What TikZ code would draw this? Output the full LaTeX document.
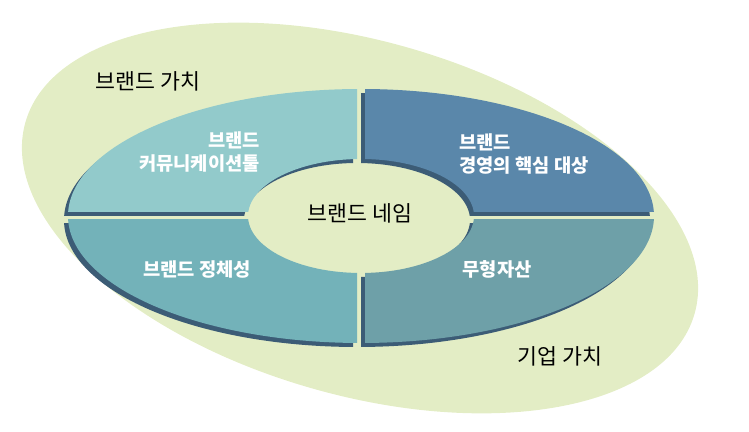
\documentclass[tikz,border=0pt]{standalone}
\usepackage{fontspec}
\setmainfont{Noto Sans CJK KR}
\definecolor{valuegreen}{RGB}{227,237,197}
\definecolor{ringshadow}{RGB}{60,92,118}
\definecolor{commteal}{RGB}{146,202,203}
\definecolor{coresteel}{RGB}{90,135,170}
\definecolor{identteal}{RGB}{115,178,185}
\definecolor{assetteal}{RGB}{110,160,168}

\begin{document}
\begin{tikzpicture}[x=0.03cm,y=0.03cm,
	plainlabel/.style={font=\fontsize{18.5}{22}\selectfont,text=black,inner sep=0pt},
	ringlabel/.style={font=\fontsize{16}{19.6}\selectfont\bfseries,text=white,inner sep=0pt}]
	\useasboundingbox (0,0) rectangle (749,432);
	% brand value field
	\fill[valuegreen,rotate around={-16:(360,214)}] (360,214) ellipse [x radius=348,y radius=177];
	% shadows of the four ring parts
	\foreach \qx/\qy in {-1/1,1/1,-1/-1,1/-1}{
		\begin{scope}[shift={(-4,-4)}]
			\clip (361+4*\qx,216+4*\qy) rectangle (361+310*\qx,216+140*\qy);
			\fill[ringshadow,even odd rule] (361,216) ellipse [x radius=293,y radius=127] (361,216) ellipse [x radius=113,y radius=57];
		\end{scope}
	}
	% ring parts
	\foreach \qx/\qy/\qcol in {-1/1/commteal,1/1/coresteel,-1/-1/identteal,1/-1/assetteal}{
		\begin{scope}
			\clip (361+4*\qx,216+4*\qy) rectangle (361+310*\qx,216+140*\qy);
			\fill[\qcol,even odd rule] (361,216) ellipse [x radius=293,y radius=127] (361,216) ellipse [x radius=113,y radius=57];
		\end{scope}
	}
	\node[plainlabel] (brandvalue) at (148,351) {브랜드 가치};
	\node[plainlabel] (corpvalue) at (560,76) {기업 가치};
	\node[plainlabel] (brandname) at (360,219) {브랜드 네임};
	\node[ringlabel,align=right,anchor=east] (commtool) at (260,280) {브랜드\\커뮤니케이션툴};
	\node[ringlabel,align=left,anchor=west] (coretarget) at (459,278) {브랜드\\경영의 핵심 대상};
	\node[ringlabel] (identity) at (197,162) {브랜드 정체성};
	\node[ringlabel] (intangible) at (497,163) {무형자산};
\end{tikzpicture}
\end{document}
